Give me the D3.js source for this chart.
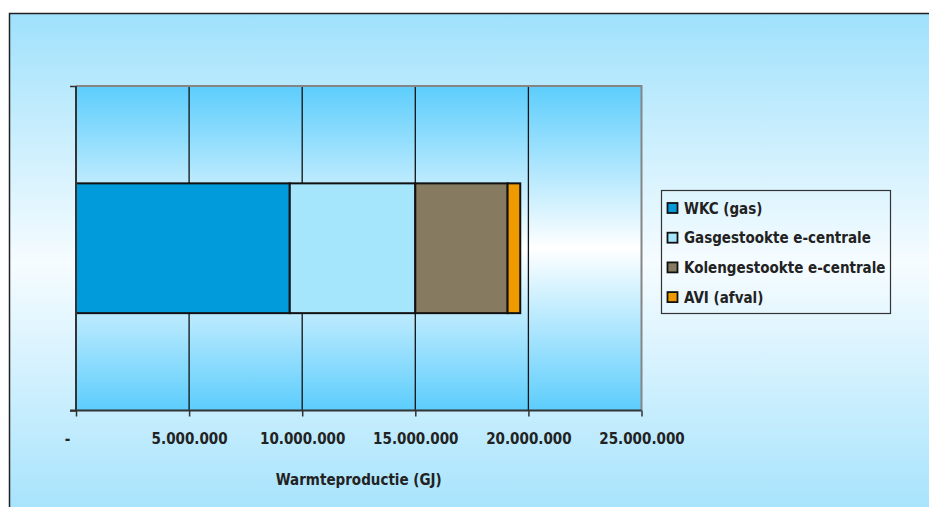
<!DOCTYPE html>
<html><head><meta charset="utf-8">
<script src="https://cdn.jsdelivr.net/npm/d3@7"></script>
<style>
html,body{margin:0;padding:0;background:#fff;}
svg{display:block;}
text{font-family:"DejaVu Sans Condensed","DejaVu Sans",sans-serif;font-stretch:condensed;font-weight:700;fill:#222;}
</style></head>
<body>
<svg id="chart" width="929" height="507"></svg>
<script>
// data
const categories = ["Warmteproductie"];
const seriesNames = ["WKC (gas)", "Gasgestookte e-centrale", "Kolengestookte e-centrale", "AVI (afval)"];
const seriesValues = [9450000, 5550000, 4080000, 560000];
const seriesColors = ["#019bdc", "#a6e6fc", "#867a60", "#ef9b00"];
const xTicks = [0, 5000000, 10000000, 15000000, 20000000, 25000000];
const xTickLabels = ["-", "5.000.000", "10.000.000", "15.000.000", "20.000.000", "25.000.000"];
const xTitle = "Warmteproductie (GJ)";

const svg = d3.select("#chart");
const defs = svg.append("defs");
const g1 = defs.append("linearGradient").attr("id","bgGrad").attr("x1",0).attr("y1",0).attr("x2",0).attr("y2",1);
g1.append("stop").attr("offset","0%").attr("stop-color","#9fe1fc");
g1.append("stop").attr("offset","48%").attr("stop-color","#f6fcff");
g1.append("stop").attr("offset","100%").attr("stop-color","#9fe1fc");
const g2 = defs.append("linearGradient").attr("id","plotGrad").attr("x1",0).attr("y1",0).attr("x2",0).attr("y2",1);
g2.append("stop").attr("offset","0%").attr("stop-color","#5ccdfc");
g2.append("stop").attr("offset","50%").attr("stop-color","#ffffff");
g2.append("stop").attr("offset","100%").attr("stop-color","#5ccdfc");

// outer chart area
svg.append("rect").attr("x",9.5).attr("y",13.5).attr("width",940).attr("height",520)
  .attr("fill","url(#bgGrad)").attr("stroke","#222").attr("stroke-width",1.5);

const plot = {left:76, right:641.5, top:86, bottom:410.5};
const x = d3.scaleLinear().domain([0,25000000]).range([plot.left, plot.right]);
const y = d3.scaleBand().domain(categories).range([plot.top, plot.bottom]).paddingInner(0.6).paddingOuter(0.3);

// plot area
svg.append("rect").attr("x",plot.left).attr("y",plot.top)
  .attr("width",plot.right-plot.left).attr("height",plot.bottom-plot.top)
  .attr("fill","url(#plotGrad)");

// gridlines
svg.append("g").selectAll("line").data(xTicks.slice(1,-1)).join("line")
  .attr("x1",d=>x(d)).attr("x2",d=>x(d)).attr("y1",plot.top).attr("y2",plot.bottom)
  .attr("stroke","#111").attr("stroke-width",1.3);

// border top/right
svg.append("path").attr("d",`M${plot.left},${plot.top}H${plot.right}V${plot.bottom}`)
  .attr("fill","none").attr("stroke","#858585").attr("stroke-width",2);

// stacked bar
let cum = 0;
const stackData = seriesValues.map((v,i)=>{const s={x0:cum,x1:cum+v,c:seriesColors[i]};cum+=v;return s;});
svg.append("g").selectAll("rect").data(stackData).join("rect")
  .attr("x",d=>x(d.x0)).attr("width",d=>x(d.x1)-x(d.x0))
  .attr("y",y(categories[0])).attr("height",y.bandwidth())
  .attr("fill",d=>d.c).attr("stroke","#111").attr("stroke-width",2);

const FS = 15;
const FF = '"DejaVu Sans Condensed","DejaVu Sans",sans-serif';
// x axis
const xAxis = d3.axisBottom(x).tickValues(xTicks).tickSize(6).tickFormat((d,i)=>xTickLabels[i]);
const xa = svg.append("g").attr("transform",`translate(0,${plot.bottom})`).call(xAxis);
xa.select(".domain").attr("stroke","#333").attr("stroke-width",2).attr("d",`M${plot.left-6},0H${plot.right}`);
xa.selectAll(".tick line").attr("stroke","#333").attr("stroke-width",1.5);
xa.selectAll(".tick text").attr("y",23).attr("font-size",FS).attr("font-family",FF).attr("font-weight",700).attr("fill","#222")
  .attr("dx",(d,i)=>i===0?-9:0);

// y axis
const yAxisScale = d3.scalePoint().domain(["a","b"]).range([plot.top, plot.bottom]);
const ya = svg.append("g").attr("transform",`translate(${plot.left},0)`)
  .call(d3.axisLeft(yAxisScale).tickSize(6).tickFormat(""));
ya.select(".domain").attr("stroke","#333").attr("stroke-width",2).attr("d",`M0,${plot.top}V${plot.bottom}`);
ya.selectAll(".tick line").attr("stroke","#333").attr("stroke-width",1.5);

// x title
svg.append("text").attr("x",(plot.left+plot.right)/2).attr("y",485).attr("text-anchor","middle")
  .attr("font-size",FS).text(xTitle);

// legend
const lg = svg.append("g");
lg.append("rect").attr("x",661.5).attr("y",190.5).attr("width",229).attr("height",123)
  .attr("fill","none").attr("stroke","#333").attr("stroke-width",1.2);
const items = lg.selectAll("g.item").data(seriesNames).join("g").attr("class","item")
  .attr("transform",(d,i)=>`translate(0,${208+i*29.7})`);
items.append("rect").attr("x",667.5).attr("y",-5).attr("width",10).attr("height",10)
  .attr("fill",(d,i)=>seriesColors[i]).attr("stroke","#111").attr("stroke-width",1.8);
items.append("text").attr("x",684).attr("y",5.5).attr("font-size",FS).text(d=>d);
</script>
</body></html>
